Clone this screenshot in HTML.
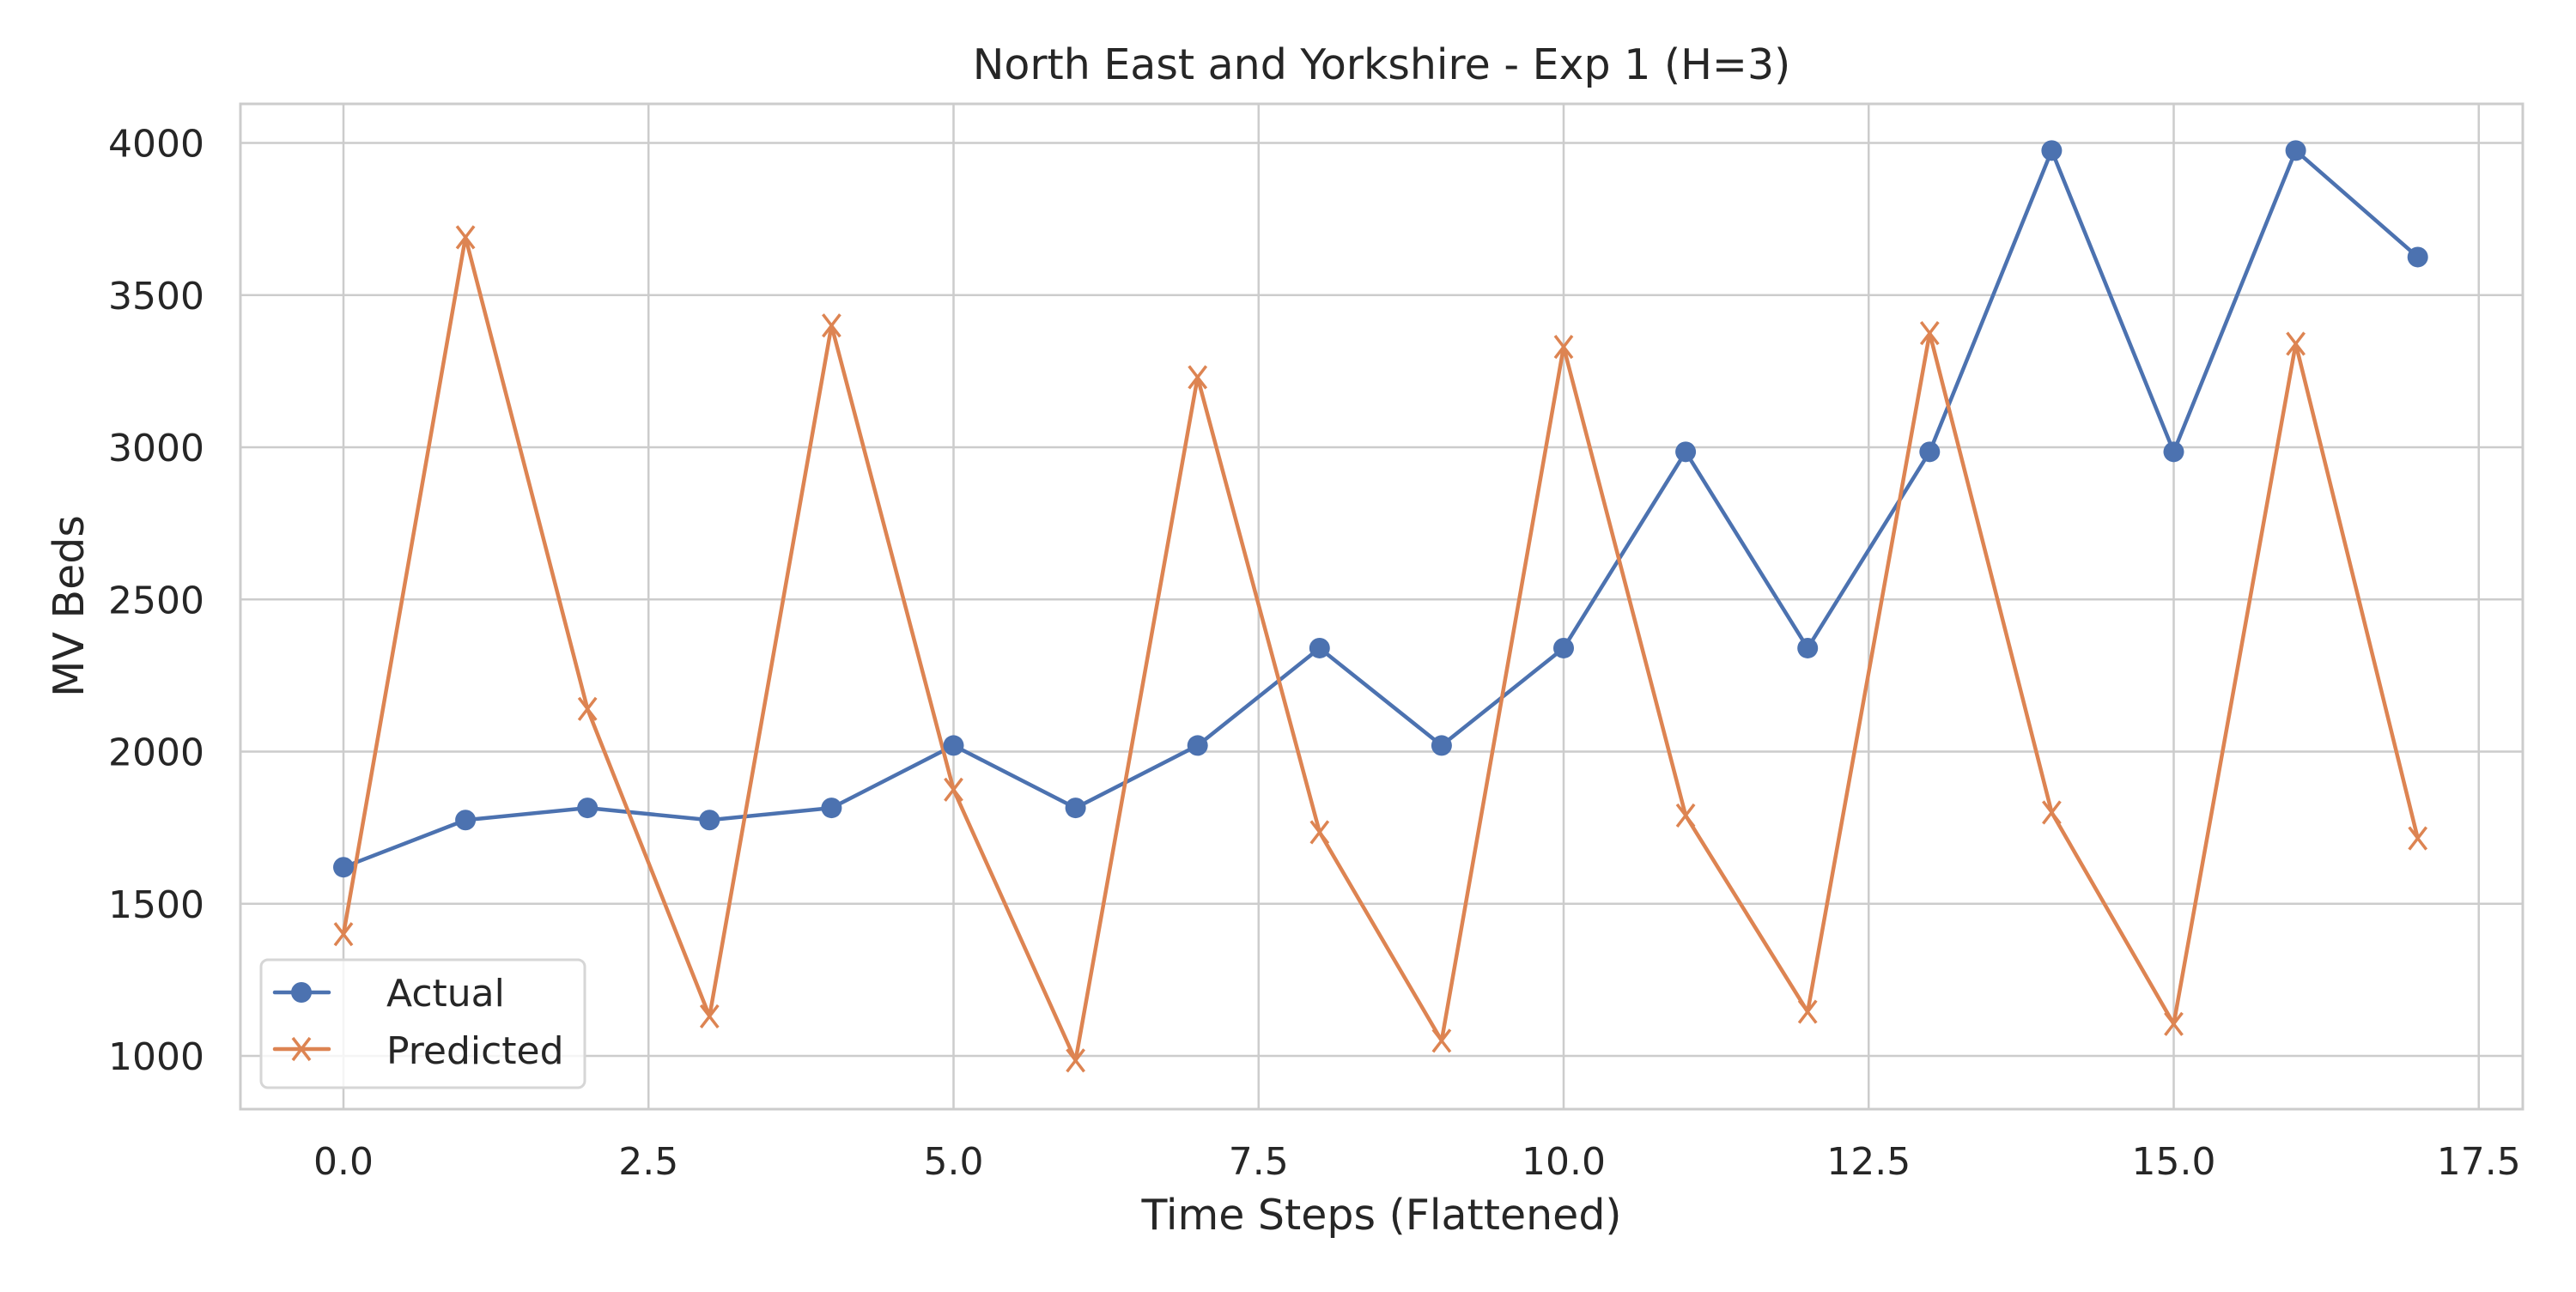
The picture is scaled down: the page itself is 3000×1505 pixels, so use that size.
<!DOCTYPE html>
<html><head><meta charset="utf-8"><style>
html,body{margin:0;padding:0;background:#fff;}
svg text{font-family:"DejaVu Sans","Liberation Sans",sans-serif;fill:#262626;}
</style></head><body>
<svg id="chart" width="3000" height="1500" viewBox="0 0 3000 1500" xmlns="http://www.w3.org/2000/svg">
<rect width="3000" height="1500" fill="#fff"/>
<g id="grid"></g>
<rect x="280" y="121" width="2658" height="1171" fill="none" stroke="#cccccc" stroke-width="3"/>
<g id="ticks"></g>
<g id="series"></g>
<text x="1609" y="92" font-size="49" text-anchor="middle">North East and Yorkshire - Exp 1 (H=3)</text>
<text x="1609" y="1432" font-size="49" text-anchor="middle">Time Steps (Flattened)</text>
<text transform="translate(97,706) rotate(-90)" font-size="49" text-anchor="middle">MV Beds</text>
<g>
<rect x="304" y="1118" width="377" height="149" rx="8" fill="#fff" fill-opacity="0.8" stroke="#d6d6d6" stroke-width="3"/>
<g>
<line x1="320" y1="1156" x2="383" y2="1156" stroke="#4c72b0" stroke-width="4.5" stroke-linecap="round"/>
<circle cx="351" cy="1156" r="12" fill="#4c72b0"/>
<text x="450" y="1172" font-size="44">Actual</text>
</g>
<g>
<line x1="320" y1="1222" x2="383" y2="1222" stroke="#dd8452" stroke-width="4.5" stroke-linecap="round"/>
<path d="M341 1209 L361 1235 M361 1209 L341 1235" stroke="#dd8452" stroke-width="3.5"/>
<text x="450" y="1239" font-size="44">Predicted</text>
</g>
</g>
</svg>
<script>
const timeSteps=[0,1,2,3,4,5,6,7,8,9,10,11,12,13,14,15,16,17];
const actualValues=[1620,1775,1815,1775,1815,2020,1815,2020,2340,2020,2340,2985,2340,2985,3975,2985,3975,3625];
const predictedValues=[1400,3690,2140,1130,3400,1875,985,3230,1735,1050,3330,1790,1145,3375,1800,1105,3340,1715];
const xTicks=[0,2.5,5,7.5,10,12.5,15,17.5];
const xTickLabels=["0.0","2.5","5.0","7.5","10.0","12.5","15.0","17.5"];
const yTicks=[1000,1500,2000,2500,3000,3500,4000];
const yTickLabels=["1000","1500","2000","2500","3000","3500","4000"];

const NS="http://www.w3.org/2000/svg";
function xs(v){return 400+v*142.1;}
function ys(v){return 166.5+(4000-v)*0.3545;}
function mk(tag,attrs,parent){const e=document.createElementNS(NS,tag);for(const k in attrs)e.setAttribute(k,attrs[k]);parent.appendChild(e);return e;}
const grid=document.getElementById('grid'),ticks=document.getElementById('ticks'),series=document.getElementById('series');
xTicks.forEach((t,i)=>{
  const l=mk('line',{x1:xs(t),x2:xs(t),y1:121,y2:1292,stroke:'#cccccc','stroke-width':2.5},grid);
  
  
  const tx=mk('text',{x:xs(t),y:1368,'font-size':44,'text-anchor':'middle'},ticks);
  tx.textContent=xTickLabels[i];
  
  
});
yTicks.forEach((t,i)=>{
  const l=mk('line',{x1:280,x2:2938,y1:ys(t),y2:ys(t),stroke:'#cccccc','stroke-width':2.5},grid);
  
  
  const tx=mk('text',{x:238,y:ys(t)+16,'font-size':44,'text-anchor':'end'},ticks);
  tx.textContent=yTickLabels[i];
  
  
});
function drawLine(vals,color,name){
  const p=mk('polyline',{points:timeSteps.map((t,i)=>xs(t)+','+ys(vals[i])).join(' '),fill:'none',stroke:color,'stroke-width':4.5,'stroke-linejoin':'round'},series);
  
  
}
drawLine(actualValues,'#4c72b0','actual');
drawLine(predictedValues,'#dd8452','predicted');
timeSteps.forEach((t,i)=>{
  const c=mk('circle',{cx:xs(t),cy:ys(actualValues[i]),r:12,fill:'#4c72b0'},series);
  
  
  const x=xs(t),y=ys(predictedValues[i]);
  const m=mk('path',{d:`M${x-10} ${y-13} L${x+10} ${y+13} M${x+10} ${y-13} L${x-10} ${y+13}`,stroke:'#dd8452','stroke-width':3.5},series);
  
  
});
</script>
</body></html>
